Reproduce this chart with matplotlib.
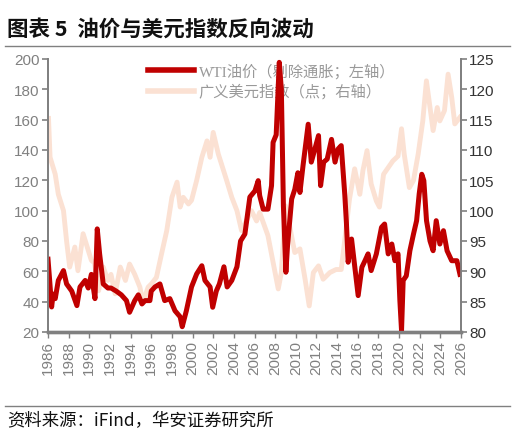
import matplotlib
matplotlib.use("Agg")
import matplotlib.pyplot as plt
from matplotlib.lines import Line2D

# ---------------- data ----------------
wti_years = [1986.0, 1986.15, 1986.35, 1986.5, 1986.7, 1987.0, 1987.5, 1987.8, 1988.3, 1988.8,
             1989.1, 1989.6, 1989.9, 1990.2, 1990.55, 1990.77, 1991.0, 1991.35, 1991.8, 1992.1,
             1992.6, 1993.1, 1993.6, 1993.9, 1994.4, 1994.75, 1995.1, 1995.4, 1995.87, 1996.0,
             1996.36, 1996.84, 1997.3, 1997.8, 1998.3, 1998.8, 1999.0, 1999.4, 1999.9, 2000.4,
             2000.9, 2001.2, 2001.7, 2001.95, 2002.3, 2002.6, 2003.04, 2003.35, 2003.8, 2004.3,
             2004.65, 2005.07, 2005.55, 2006.04, 2006.36, 2006.5, 2006.84, 2007.3, 2007.65, 2007.8,
             2008.1, 2008.4, 2008.6, 2008.8, 2009.04, 2009.2, 2009.6, 2009.9, 2010.2, 2010.4,
             2010.7, 2011.2, 2011.5, 2011.85, 2012.2, 2012.4, 2012.7, 2013.04, 2013.46, 2013.8,
             2014.1, 2014.4, 2014.75, 2014.9, 2015.07, 2015.4, 2015.7, 2016.04, 2016.4, 2016.7,
             2017.0, 2017.3, 2017.8, 2018.3, 2018.6, 2018.95, 2019.3, 2019.6, 2019.9, 2020.08,
             2020.24, 2020.4, 2020.7, 2021.05, 2021.4, 2021.7, 2021.95, 2022.2, 2022.4, 2022.66,
             2023.0, 2023.3, 2023.6, 2023.95, 2024.3, 2024.65, 2025.1, 2025.6, 2025.9]
wti_values = [68, 55, 36.5, 45, 42, 54, 60.5, 51.7, 47, 37.4,
              49.7, 54, 49, 58, 42, 88, 71.5, 51.7, 49, 49,
              47, 44.5, 40.7, 33, 40.7, 44.5, 38.5, 40.7, 40.7, 47,
              49.7, 51.7, 40.7, 42, 34, 30, 23.5, 34, 49.7, 58.3,
              63.7, 54, 49.7, 36.3, 47, 51.7, 63, 49.7, 54, 63,
              80, 84.6, 109, 113, 119.8, 110, 101, 101, 116.5, 145,
              150, 197.8, 180, 103, 59.4, 77, 107.7, 114, 125, 112,
              129.7, 157, 132, 140.7, 149.5, 116.5, 132, 134, 147, 132,
              140.7, 142.9, 110, 92.3, 66, 81.3, 63.7, 44, 62.7, 67,
              71.5, 60.5, 71.5, 89, 91.2, 71.5, 78, 67, 71.5, 40.7,
              21, 54, 57, 73.6, 84.6, 93.4, 111, 124, 119.8, 93.4,
              80, 73.6, 93.4, 78, 86.8, 73.6, 67, 67, 58]

usd_years = [1986.05, 1986.2, 1986.7, 1987.0, 1987.5, 1987.8, 1988.1, 1988.6, 1988.9, 1989.4,
             1989.8, 1990.2, 1990.5, 1990.9, 1991.35, 1991.8, 1992.1, 1992.5, 1993.0, 1993.5,
             1993.9, 1994.4, 1994.9, 1995.2, 1995.7, 1996.0, 1996.5, 1997.0, 1997.5, 1998.0,
             1998.5, 1998.8, 1999.1, 1999.6, 1999.9, 2000.4, 2000.9, 2001.4, 2001.7, 2002.0,
             2002.5, 2002.8, 2003.3, 2003.8, 2004.3, 2004.75, 2005.2, 2005.7, 2006.2, 2006.5,
             2007.3, 2007.8, 2008.3, 2008.6, 2009.0, 2009.4, 2009.9, 2010.4, 2010.9, 2011.3,
             2011.7, 2012.2, 2012.65, 2013.3, 2013.9, 2014.4, 2014.75, 2015.2, 2015.7, 2016.2,
             2016.5, 2016.9, 2017.3, 2017.8, 2018.1, 2018.5, 2018.95, 2019.4, 2019.9, 2020.24,
             2020.5, 2021.0, 2021.4, 2021.85, 2022.3, 2022.65, 2023.0, 2023.3, 2023.7, 2023.95,
             2024.4, 2024.75, 2025.1, 2025.4, 2025.9]
usd_values = [115.2, 108.8, 106, 102.7, 100, 95, 90.7, 94, 90.1, 96.2,
              94, 91.8, 91.4, 86.8, 90.7, 88.5, 89.5, 86.3, 90.7, 88.5,
              91.2, 89.5, 87.4, 84.9, 87.4, 87.9, 89, 92.9, 96.7, 102.2,
              104.7, 100.6, 102.2, 101.1, 101.7, 105, 108.8, 111.5, 108.8, 112.9,
              109.3, 107.7, 105, 102.2, 100, 96.7, 98.3, 100, 98.3, 99.7,
              95.9, 91.5, 87.1, 89.8, 100.8, 97.5, 93.1, 93.7, 88.7, 84.3,
              89.8, 90.9, 88.7, 89.8, 90.3, 90.3, 95.3, 101.9, 106.9, 102.7,
              106.6, 109.9, 104.4, 101.6, 100.6, 106, 107.1, 108.2, 109, 113.5,
              109.3, 103.8, 105, 109.3, 114.8, 121.4, 117, 113.2, 117, 114.8,
              116.5, 122.5, 118.7, 114.3, 115.4]

x_ticks = list(range(1986, 2027, 2))
left_ticks = list(range(20, 201, 20))
right_ticks = list(range(80, 126, 5))

title = "图表 5  油价与美元指数反向波动"
source = "资料来源：iFind，华安证券研究所"
label_wti = "WTI油价（剔除通胀；左轴）"
label_usd = "广义美元指数（点；右轴）"

# ---------------- styling ----------------
RED = "#C00000"
PINK = "#FBE1D3"
GRAY = "#808080"
TICKFONT = "Liberation Sans"

fig = plt.figure(figsize=(5.16, 4.35), dpi=100)
ax1 = fig.add_axes([48/516, 1-333/435, (461-48)/516, (333-60)/435])
ax2 = ax1.twinx()
ax1.set_zorder(ax2.get_zorder() + 1)
ax1.patch.set_visible(False)

ax2.plot(usd_years, usd_values, color=PINK, lw=3.5, solid_joinstyle="round")
ax1.plot(wti_years, wti_values, color=RED, lw=3.6, solid_joinstyle="round")

ax1.set_xlim(1986, 2026)
ax1.set_ylim(20, 200)
ax2.set_ylim(80, 125)
ax1.set_xticks(x_ticks)
ax1.set_xticklabels([str(y) for y in x_ticks], rotation=90)
ax1.set_yticks(left_ticks)
ax2.set_yticks(right_ticks)

for ax in (ax1, ax2):
    ax.spines["top"].set_visible(False)
    for s in ("left", "right"):
        ax.spines[s].set_color(GRAY)
        ax.spines[s].set_linewidth(1.3)
    ax.spines["bottom"].set_color(GRAY)
    ax.spines["bottom"].set_linewidth(2.4)

ax1.tick_params(axis="y", direction="out", length=4, width=1.2, color=GRAY,
                labelcolor=GRAY, labelsize=11, pad=2)
ax1.tick_params(axis="x", direction="out", length=4, width=1.0, color=GRAY,
                labelcolor=GRAY, labelsize=11, pad=2)
ax2.tick_params(axis="y", direction="out", length=4, width=1.2, color=GRAY,
                labelcolor="#333333", labelsize=11, pad=2)
for lab in ax1.get_xticklabels() + ax1.get_yticklabels() + ax2.get_yticklabels():
    lab.set_fontfamily(TICKFONT)

handles = [Line2D([], [], color=RED, lw=4), Line2D([], [], color=PINK, lw=4)]
leg = ax2.legend(handles, [label_wti, label_usd], loc="upper left",
                 bbox_to_anchor=(0.21, 1.035), frameon=False, handlelength=3.0,
                 handletextpad=0.3, labelspacing=0.3,
                 prop={"family": ["Liberation Serif", "Noto Sans CJK SC"], "size": 11})
for t in leg.get_texts():
    t.set_color("#999999")

fig.text(7/516, 1-29/435, title, fontsize=15.5, fontweight="bold",
         family=["Noto Sans CJK SC", "DejaVu Sans"], va="center", ha="left", color="#111111")
fig.add_artist(Line2D([5/516, 510/516], [1-46.5/435, 1-46.5/435], color=GRAY, lw=1.0,
                      transform=fig.transFigure))
fig.add_artist(Line2D([5/516, 510/516], [1-407/435, 1-407/435], color=GRAY, lw=1.0,
                      transform=fig.transFigure))
fig.text(7/516, 1-421/435, source, fontsize=12.5,
         family=["Noto Sans CJK SC", "DejaVu Sans"], va="center", ha="left", color="#111111")

fig.savefig("out.png", dpi=100)
